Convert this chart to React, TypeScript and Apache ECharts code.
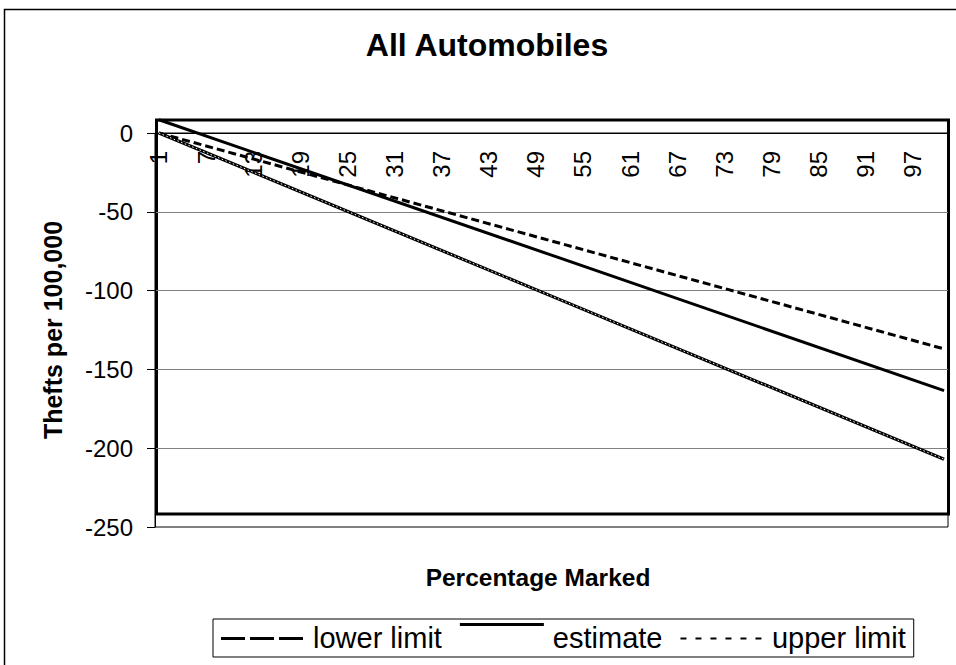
import React, { useEffect, useRef } from 'react';
import * as echarts from 'echarts';

// Categories: percentage marked 1..101
const categories: string[] = Array.from({ length: 101 }, (_, i) => String(i + 1));
// Vertices (straight lines)
const markedPoints = ['1', '51', '101'];
const lowerLimit = [0, -68.5, -137];
const estimate = [8.4, -77.5, -163.5];
const upperLimit = [0, -103.5, -207];
const yMin = -250;
const yMax = 0;
const yStep = 50;

const FONT = '"Liberation Sans", Arial, sans-serif';

const GRID_TOP = 133;
const GRID_BOTTOM = 138;
const CHART_H = 665;
const GRID_H = CHART_H - GRID_TOP - GRID_BOTTOM;

const lowerIcon =
  'path://M0,14H24V17H0Z M29,14H53V17H29Z M58,14H82V17H58Z M0,0H0.01V0.01H0Z M0,30H0.01V30.01H0Z';
const estimateIcon = 'path://M0,0H84V3H0Z M0,30H0.01V30.01H0Z';
const upperIcon =
  'path://M0,14.5H6V16.5H0Z M15,14.5H21V16.5H15Z M30,14.5H36V16.5H30Z M45,14.5H51V16.5H45Z M60,14.5H66V16.5H60Z M75,14.5H81V16.5H75Z M0,0H0.01V0.01H0Z M0,30H0.01V30.01H0Z';

export default function App() {
  const ref = useRef<HTMLDivElement>(null);
  useEffect(() => {
    const chart = echarts.init(ref.current!, null, { renderer: 'svg' });
    const pts = (vals: number[]) => markedPoints.map((c, i) => [c, vals[i]]);
    chart.setOption({
      animation: false,
      backgroundColor: '#fff',
      title: {
        text: 'All Automobiles',
        left: 482,
        top: 24,
        textAlign: 'center',
        textStyle: { fontSize: 32, fontWeight: 'bold', color: '#000', fontFamily: FONT },
      },
      grid: {
        left: 155,
        right: 8,
        top: GRID_TOP,
        bottom: GRID_BOTTOM,
        show: true,
        borderColor: '#000',
        borderWidth: 1,
        backgroundColor: 'transparent',
      },
      legend: {
        data: [
          { name: 'lower limit', icon: lowerIcon },
          { name: 'estimate', icon: estimateIcon },
          { name: 'upper limit', icon: upperIcon },
        ],
        left: 213,
        top: 619,
        itemWidth: 84,
        itemHeight: 30,
        itemGap: 18,
        padding: [4, 8],
        borderColor: '#000',
        borderWidth: 1,
        borderRadius: 0,
        selectedMode: false,
        textStyle: { fontSize: 29, color: '#000', fontFamily: FONT, padding: [0, 0, 0, 4] },
        itemStyle: { color: '#000', borderWidth: 0 },
      },
      xAxis: {
        type: 'category',
        data: categories,
        position: 'bottom',
        offset: -GRID_H,
        boundaryGap: true,
        axisLine: { onZero: false, lineStyle: { color: '#000', width: 1 } },
        axisTick: { interval: 0, length: 5, lineStyle: { color: '#000' } },
        axisLabel: {
          interval: 5,
          rotate: 90,
          fontSize: 24,
          color: '#000',
          fontFamily: FONT,
          margin: 18,
        },
        splitLine: { show: false },
      },
      yAxis: {
        type: 'value',
        min: yMin,
        max: yMax,
        interval: yStep,
        axisLine: { show: true, onZero: false, lineStyle: { color: '#000', width: 1 } },
        axisTick: { show: true, length: 8, lineStyle: { color: '#000' } },
        axisLabel: { fontSize: 24, color: '#000', fontFamily: FONT, margin: 22 },
        splitLine: { lineStyle: { color: '#808080', width: 1 } },
        name: 'Thefts per 100,000',
        nameLocation: 'middle',
        nameGap: 90,
        nameTextStyle: { fontSize: 25, fontWeight: 'bold', color: '#000', fontFamily: FONT },
      },
      graphic: [
        {
          type: 'rect',
          silent: true,
          z: 0,
          shape: { x: 4.5, y: 9.5, width: 1000, height: 1000 },
          style: { fill: 'none', stroke: '#000', lineWidth: 1.5 },
        },
        {
          type: 'rect',
          silent: true,
          z: 0,
          shape: { x: 156.5, y: 120, width: 792, height: 394 },
          style: { fill: 'none', stroke: '#000', lineWidth: 3 },
        },
        {
          type: 'text',
          silent: true,
          x: 538,
          y: 577,
          style: {
            text: 'Percentage Marked',
            fontSize: 24.5,
            fontWeight: 'bold',
            fontFamily: FONT,
            fill: '#000',
            align: 'center',
            verticalAlign: 'middle',
            textAlign: 'center',
            textVerticalAlign: 'middle',
          },
        },
      ],
      series: [
        {
          name: 'lower limit',
          type: 'line',
          data: pts(lowerLimit),
          symbol: 'none',
          clip: false,
          itemStyle: { color: '#000' },
          lineStyle: { color: '#000', width: 3, type: [8, 4] },
          z: 3,
        },
        {
          name: 'estimate',
          type: 'line',
          data: pts(estimate),
          symbol: 'none',
          clip: false,
          itemStyle: { color: '#000' },
          lineStyle: { color: '#000', width: 3 },
          z: 3,
        },
        {
          name: 'upper limit',
          type: 'line',
          data: pts(upperLimit),
          symbol: 'none',
          clip: false,
          itemStyle: { color: '#000' },
          lineStyle: { color: '#000', width: 3.2 },
          z: 3,
        },
        {
          name: 'upper limit',
          type: 'line',
          data: pts(upperLimit),
          symbol: 'none',
          clip: false,
          itemStyle: { color: '#000' },
          lineStyle: { color: '#fff', width: 1, type: [1.5, 2.5] },
          z: 4,
        },
      ],
    });
    return () => chart.dispose();
  }, []);
  return (
    <div
      ref={ref}
      style={{ position: 'absolute', left: 0, top: 0, width: 956, height: 665 }}
    />
  );
}
